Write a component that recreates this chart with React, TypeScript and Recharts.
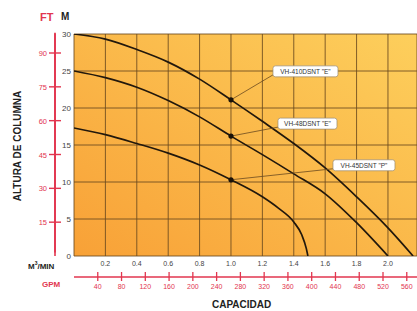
import {
  LineChart,
  Line,
  XAxis,
  YAxis,
  CartesianGrid,
} from "recharts";

// capacity in m3/min, head in metres
const flow410 = [0, 0.2, 0.4, 0.6, 0.8, 1.0, 1.2, 1.4, 1.6, 1.8, 2.0, 2.16];
const head410 = [30, 29.3, 27.9, 26.2, 23.9, 21.1, 18.2, 15.2, 11.9, 8.0, 3.8, 0];

const flow48 = [0, 0.2, 0.4, 0.6, 0.8, 1.0, 1.2, 1.4, 1.6, 1.8, 2.0];
const head48 = [25, 24.1, 22.8, 21.0, 18.8, 16.2, 13.7, 11.1, 8.4, 4.5, 0];

const flow45 = [0, 0.2, 0.4, 0.6, 0.8, 1.0, 1.2, 1.3, 1.4, 1.45, 1.48, 1.49];
const head45 = [17.3, 16.4, 15.2, 13.9, 12.3, 10.3, 8.0, 6.5, 4.6, 2.9, 1.0, 0];

const seriesNames = ['VH-410DSNT "E"', 'VH-48DSNT "E"', 'VH-45DSNT "P"'];

const mTicks = [0, 5, 10, 15, 20, 25, 30];
const ftTicks = [15, 30, 45, 60, 75, 90];
const qTicks = [0, 0.2, 0.4, 0.6, 0.8, 1.0, 1.2, 1.4, 1.6, 1.8, 2.0];
const gpmTicks = [40, 80, 120, 160, 200, 240, 280, 320, 360, 400, 440, 480, 520, 560];

const Q_MAX = 2.185;
const M_TO_FT = 3.2808;
const M3MIN_TO_GPM = 264.17;

const toRows = (flow: number[], head: number[]) =>
  flow.map((q, i) => ({ q, h: head[i] }));

// same top curve expressed in GPM / FT so the secondary axes get data
const imperialRows = flow410.map((q, i) => ({
  gpm: q * M3MIN_TO_GPM,
  ft: head410[i] * M_TO_FT,
}));

const series = [
  { name: seriesNames[0], data: toRows(flow410, head410), box: { dx: 42, dy: -34, w: 65 } },
  { name: seriesNames[1], data: toRows(flow48, head48), box: { dx: 47, dy: -18, w: 59 } },
  { name: seriesNames[2], data: toRows(flow45, head45), box: { dx: 102, dy: -20, w: 62 } },
];

const RED = "#E2364F";
const GRID = "#6B4A1E";

const makeDot = (label: string, box: { dx: number; dy: number; w: number }) =>
  (props: any) => {
    const { cx, cy, payload, index } = props;
    if (payload.q !== 1.0) return <g key={index} />;
    const bx = cx + box.dx;
    const by = cy + box.dy;
    return (
      <g key={index}>
        <line x1={cx} y1={cy} x2={bx} y2={by + 9} stroke="#6b4a20" strokeWidth={0.8} />
        <circle cx={cx} cy={cy} r={2.6} fill="#1a1208" />
        <rect x={bx} y={by} width={box.w} height={11} rx={2.5} fill="#fff" stroke="#9a8a70" strokeWidth={0.7} />
        <text x={bx + box.w / 2} y={by + 8} textAnchor="middle" fontSize={6.5} fill="#333"
          fontFamily="Liberation Sans, Arial, sans-serif">
          {label}
        </text>
      </g>
    );
  };

// each tick also draws the red spine down to the next tick (or to the axis floor)
const FtTick = (props: any) => {
  const { x, y, payload, index } = props;
  const step = 15 * (222 / (30 * M_TO_FT));
  const top = index === ftTicks.length - 1 ? y - step * 0.6 : y;
  const bottom = index === 0 ? y + step * 0.9 : y + step;
  return (
    <g>
      <path d={`M${x},${top}V${bottom}`} stroke={RED} strokeWidth={1.8} fill="none" />
      <path d={`M${x - 6},${y}H${x + 6}`} stroke={RED} strokeWidth={1.4} fill="none" />
      <text x={x - 8} y={y + 3} textAnchor="end" fontSize={7.5} fill={RED}>
        {payload.value}
      </text>
    </g>
  );
};

const GpmTick = (props: any) => {
  const { x, y, payload } = props;
  return (
    <g>
      <line x1={x} y1={y - 5} x2={x} y2={y + 4} stroke={RED} strokeWidth={1.3} />
      <text x={x} y={y + 12} textAnchor="middle" fontSize={7} fill={RED}>
        {payload.value}
      </text>
    </g>
  );
};

const txt = (extra: React.CSSProperties): React.CSSProperties => ({
  position: "absolute",
  fontFamily: "Liberation Sans, Arial, sans-serif",
  fontWeight: 700,
  lineHeight: 1,
  whiteSpace: "nowrap",
  ...extra,
});

export default function App() {
  return (
    <div
      style={{
        position: "absolute",
        left: 0,
        top: 0,
        width: 417,
        height: 311,
        background: "#fff",
        overflow: "hidden",
        fontFamily: "Liberation Sans, Arial, sans-serif",
      }}
    >
      <LineChart
        width={417}
        height={311}
        margin={{ top: 34, right: 0, left: 25, bottom: 14 }}
      >
        <defs>
          <linearGradient id="bg" x1="0" y1="1" x2="1" y2="0">
            <stop offset="0%" stopColor="#F8A137" />
            <stop offset="100%" stopColor="#FDCF5C" />
          </linearGradient>
        </defs>
        <CartesianGrid
          fill="url(#bg)"
          fillOpacity={1}
          stroke={GRID}
          strokeOpacity={0.85}
          strokeWidth={1}
        />
        <XAxis
          type="number"
          dataKey="q"
          domain={[0, Q_MAX]}
          ticks={qTicks}
          interval={0}
          allowDataOverflow
          axisLine={false}
          tickLine={false}
          tickSize={0}
          tickMargin={5}
          height={21}
          tickFormatter={(v: number) => (v === 0 ? "" : v.toFixed(1))}
          tick={{ fontSize: 7, fill: "#444" }}
        />
        <XAxis
          xAxisId="gpm"
          type="number"
          dataKey="gpm"
          domain={[0, Q_MAX * M3MIN_TO_GPM]}
          allowDataOverflow
          ticks={gpmTicks}
          interval={0}
          stroke={RED}
          strokeWidth={1.3}
          axisLine
          tickLine={false}
          tickSize={0}
          tickMargin={0}
          height={20}
          tick={<GpmTick />}
        />
        <YAxis
          type="number"
          domain={[0, 30]}
          ticks={mTicks}
          interval={0}
          allowDataOverflow
          axisLine={false}
          tickLine={false}
          tickSize={0}
          tickMargin={3}
          width={19}
          tick={{ fontSize: 8, fill: "#444" }}
        />
        <YAxis
          yAxisId="ft"
          type="number"
          domain={[0, 30 * M_TO_FT]}
          allowDataOverflow
          ticks={ftTicks}
          interval={0}
          stroke={RED}
          axisLine={{ stroke: RED, strokeWidth: 1.6 }}
          tickLine={false}
          tickSize={0}
          tickMargin={0}
          width={30}
          tick={<FtTick />}
        />
        <Line
          xAxisId="gpm"
          yAxisId="ft"
          data={imperialRows}
          dataKey="ft"
          type="monotone"
          stroke="transparent"
          dot={false}
          activeDot={false}
          legendType="none"
          isAnimationActive={false}
        />
        {series.map((s) => (
          <Line
            key={s.name}
            name={s.name}
            data={s.data}
            dataKey="h"
            type="monotone"
            stroke="#22180c"
            strokeWidth={1.7}
            dot={makeDot(s.name, s.box)}
            activeDot={false}
            isAnimationActive={false}
          />
        ))}
      </LineChart>

      <div style={txt({ left: 40, top: 12, fontSize: 11, color: RED })}>FT</div>
      <div style={txt({ left: 61, top: 12, fontSize: 10, color: "#222" })}>M</div>
      <div
        style={txt({
          left: 18,
          top: 146,
          fontSize: 10,
          color: "#222",
          transform: "translate(-50%, -50%) rotate(-90deg)",
        })}
      >
        ALTURA DE COLUMNA
      </div>
      <div style={txt({ left: 28, top: 261, fontSize: 8, color: "#222" })}>
        M<sup style={{ fontSize: 5 }}>3</sup>/MIN
      </div>
      <div style={txt({ left: 42, top: 281, fontSize: 8, color: RED })}>GPM</div>
      <div style={txt({ left: 212, top: 300, fontSize: 10, color: "#222" })}>CAPACIDAD</div>
    </div>
  );
}
